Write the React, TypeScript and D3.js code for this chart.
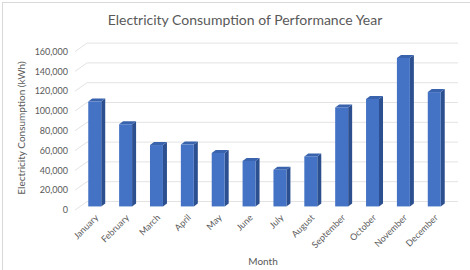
import { useEffect, useRef } from 'react';
import * as d3 from 'd3';

const months = ['January', 'February', 'March', 'April', 'May', 'June', 'July', 'August', 'September', 'October', 'November', 'December'];
const consumption = [106000, 83000, 62000, 62500, 54000, 46000, 37000, 50500, 100000, 108500, 150000, 115500];
const yTicks = [0, 20000, 40000, 60000, 80000, 100000, 120000, 140000, 160000];

const W = 470;
const H = 270;
const FONT = 'Lato, "Open Sans", sans-serif';
const TEXT = '#595959';

const ConsumptionChart = () => {
  const svgRef = useRef<SVGSVGElement>(null);

  useEffect(() => {
    if (!svgRef.current) return;
    const svg = d3.select(svgRef.current);
    svg.selectAll('*').remove();

    // depth offsets (front of floor -> back wall)
    const depthX = 12;
    const depthY = -8.5;
    const floorLeft = 75;
    const wallRight = 458;

    const yFront = d3.scaleLinear().domain([0, 160000]).range([210, 51.6]);
    const barDepth = 0.42;
    const yBar = (v: number) => yFront(v) + depthY * barDepth;

    const x = d3.scaleBand<string>()
      .domain(months)
      .range([79, 450])
      .paddingInner(0.58)
      .paddingOuter(0.3);

    // chart border
    svg.append('rect')
      .attr('x', 2.5).attr('y', 2.5)
      .attr('width', W + 20).attr('height', H + 20)
      .attr('fill', 'none')
      .attr('stroke', '#d9d9d9');

    // title
    svg.append('text')
      .attr('x', 245).attr('y', 25)
      .attr('text-anchor', 'middle')
      .attr('font-family', FONT)
      .attr('font-size', 14)
      .attr('fill', TEXT)
      .text('Electricity Consumption of Performance Year');

    // gridlines: left wall slant + back wall horizontal
    const grid = svg.append('g').attr('stroke', '#e3e3e3').attr('fill', 'none');
    yTicks.forEach(t => {
      const yf = yFront(t);
      grid.append('path')
        .attr('d', `M${floorLeft},${yf}L${floorLeft + depthX},${yf + depthY}L${wallRight},${yf + depthY}`);
    });

    // tick labels
    svg.append('g')
      .selectAll('text')
      .data(yTicks)
      .join('text')
      .attr('x', 68)
      .attr('y', d => yFront(d))
      .attr('dy', '0.35em')
      .attr('text-anchor', 'end')
      .attr('font-family', FONT)
      .attr('font-size', 9)
      .attr('fill', TEXT)
      .text(d => d3.format(',')(d));

    // 3D columns
    const side = 4;
    const lift = 3;
    const bw = x.bandwidth();
    const bars = svg.append('g');
    months.forEach((m, i) => {
      const x0 = x(m)!;
      const top = yBar(consumption[i]);
      const base = yBar(0);
      bars.append('path')
        .attr('d', `M${x0 + bw},${top}L${x0 + bw + side},${top - lift}L${x0 + bw + side},${base - lift}L${x0 + bw},${base}Z`)
        .attr('fill', '#2c4f8f');
      bars.append('path')
        .attr('d', `M${x0},${top}L${x0 + side},${top - lift}L${x0 + bw + side},${top - lift}L${x0 + bw},${top}Z`)
        .attr('fill', '#3a63ae');
      bars.append('rect')
        .attr('x', x0).attr('y', top)
        .attr('width', bw).attr('height', base - top)
        .attr('fill', '#4472c4');
    });

    // month labels
    svg.append('g')
      .selectAll('text')
      .data(months)
      .join('text')
      .attr('transform', d => `translate(${x(d)! + bw / 2 + 2},${216}) rotate(-45)`)
      .attr('text-anchor', 'end')
      .attr('dy', '0.35em')
      .attr('font-family', FONT)
      .attr('font-size', 9)
      .attr('fill', TEXT)
      .text(d => d);

    // axis titles
    svg.append('text')
      .attr('x', 263).attr('y', 265)
      .attr('text-anchor', 'middle')
      .attr('font-family', FONT)
      .attr('font-size', 10)
      .attr('fill', TEXT)
      .text('Month');

    svg.append('text')
      .attr('transform', 'translate(25,128) rotate(-90)')
      .attr('text-anchor', 'middle')
      .attr('font-family', FONT)
      .attr('font-size', 10)
      .attr('fill', TEXT)
      .text('Electricity Consumption (kWh)');
  }, []);

  return (
    <svg
      ref={svgRef}
      width={W}
      height={H}
      style={{ position: 'absolute', left: 0, top: 0, background: '#fff' }}
    />
  );
};

export default function App() {
  return <ConsumptionChart />;
}
